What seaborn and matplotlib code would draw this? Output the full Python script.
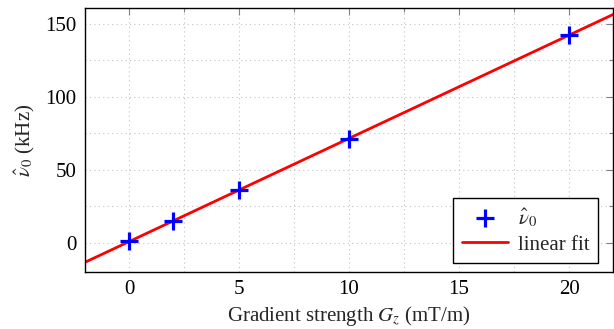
import numpy as np
import pandas as pd
import matplotlib
matplotlib.use("Agg")
import matplotlib.pyplot as plt
from matplotlib.ticker import MultipleLocator
import seaborn as sns

# Data
gradient = [0, 2, 5, 10, 20]          # G_z (mT/m)
nu0 = [1.0, 15.0, 36.3, 71.2, 142.5]  # kHz
x_ticks = [0, 5, 10, 15, 20]
y_ticks = [0, 50, 100, 150]

sns.set_theme(style="white")
plt.rcParams["font.family"] = ["Liberation Serif", "DejaVu Serif"]
plt.rcParams["mathtext.fontset"] = "stix"
FS = 15

df = pd.DataFrame({"G": gradient, "nu": nu0})
slope, intercept = np.polyfit(df["G"], df["nu"], 1)
xfit = np.array([-2.0, 22.0])
fit = pd.DataFrame({"G": xfit, "nu": slope * xfit + intercept})

fig = plt.figure(figsize=(6.14, 3.29), dpi=100)
ax = fig.add_axes([0.1384, 0.173, 0.8600, 0.803])

sns.lineplot(data=fit, x="G", y="nu", color="red", linewidth=2,
             label="linear fit", ax=ax, zorder=2)
sns.scatterplot(data=df, x="G", y="nu", marker="+", s=180, linewidth=2.3,
                color="blue", label=r"$\hat{\nu}_0$", ax=ax, zorder=3)

ax.set_xlim(-2, 22)
ax.set_ylim(-20, 161)
ax.set_xticks(x_ticks)
ax.set_yticks(y_ticks)
ax.xaxis.set_minor_locator(MultipleLocator(2.5))
ax.yaxis.set_minor_locator(MultipleLocator(25))
ax.grid(True, which="both", linestyle=(0, (1, 3)), color="#c4c4c4", linewidth=0.8)
ax.set_axisbelow(True)
ax.tick_params(which="both", direction="in", top=True, right=True,
               color="#808080", labelsize=FS, labelcolor="black", pad=6)
ax.tick_params(which="major", length=5, width=0.8)
ax.tick_params(which="minor", length=3, width=0.8)
for s in ax.spines.values():
    s.set_color("black")
    s.set_linewidth(1.0)

ax.set_xlabel(r"Gradient strength $G_z$ (mT/m)", fontsize=FS, labelpad=3)
ax.set_ylabel(r"$\hat{\nu}_0$ (kHz)", fontsize=FS, labelpad=6)

h, l = ax.get_legend_handles_labels()
leg = ax.legend([h[1], h[0]], [l[1], l[0]], loc="lower right",
                bbox_to_anchor=(1 - 15 / 528, 9 / 264), fontsize=FS,
                frameon=True, fancybox=False, framealpha=1, edgecolor="black",
                borderaxespad=0, handlelength=2.2, labelspacing=0.3,
                borderpad=0.4, handletextpad=0.5)
leg.get_frame().set_linewidth(1.0)

fig.savefig("out.png", dpi=100)
